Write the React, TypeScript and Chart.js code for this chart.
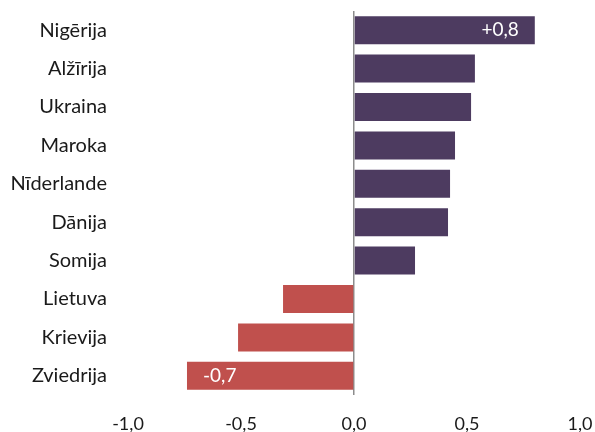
import React, { useEffect, useRef } from "react";
import { Chart, registerables } from "chart.js";

Chart.register(...registerables);

const categories = ["Nigērija", "Alžīrija", "Ukraina", "Maroka", "Nīderlande", "Dānija", "Somija", "Lietuva", "Krievija", "Zviedrija"];
const values = [0.80, 0.535, 0.518, 0.447, 0.425, 0.416, 0.27, -0.314, -0.513, -0.739];
const valueLabels = ["+0,8", "", "", "", "", "", "", "", "", "-0,7"];
const xTicks = [-1, -0.5, 0, 0.5, 1];

const PURPLE = "#4d3b60";
const RED = "#c0504d";
const FONT = "Lato, 'Open Sans', sans-serif";

const labelPlugin = {
  id: "valueLabels",
  afterDatasetsDraw(chart: any) {
    const meta = chart.getDatasetMeta(0);
    const ctx = chart.ctx;
    ctx.save();
    ctx.font = `19px ${FONT}`;
    ctx.fillStyle = "#ffffff";
    ctx.textBaseline = "middle";
    meta.data.forEach((bar: any, i: number) => {
      const t = valueLabels[i];
      if (!t) return;
      const v = values[i];
      if (v >= 0) {
        ctx.textAlign = "right";
        ctx.fillText(t, bar.x - 16, bar.y);
      } else {
        ctx.textAlign = "left";
        ctx.fillText(t, bar.x + 16, bar.y);
      }
    });
    ctx.restore();
  },
};

export default function App() {
  const ref = useRef<HTMLCanvasElement>(null);
  useEffect(() => {
    if (!ref.current) return;
    const chart = new Chart(ref.current, {
      type: "bar",
      data: {
        labels: categories,
        datasets: [
          {
            data: values,
            backgroundColor: values.map((v) => (v >= 0 ? PURPLE : RED)),
            barPercentage: 0.73,
            categoryPercentage: 1,
          },
        ],
      },
      options: {
        indexAxis: "y",
        animation: false,
        responsive: false,
        maintainAspectRatio: false,
        layout: { padding: { top: 11, right: 15, bottom: 0, left: 0 } },
        plugins: { legend: { display: false }, tooltip: { enabled: false } },
        scales: {
          x: {
            min: -1,
            max: 1,
            afterBuildTicks: (scale: any) => {
              scale.ticks = xTicks.map((v) => ({ value: v }));
            },
            afterFit: (scale: any) => {
              scale.height = 37;
              scale.paddingLeft = 0;
              scale.paddingRight = 0;
            },
            border: { display: false },
            grid: {
              drawTicks: false,
              lineWidth: (c: any) => (c.tick && c.tick.value === 0 ? 1.5 : 0),
              color: (c: any) => (c.tick && c.tick.value === 0 ? "#8c8c8c" : "rgba(0,0,0,0)"),
            },
            ticks: {
              padding: 18,
              color: "#1a1a1a",
              font: { family: FONT, size: 18 },
              callback: (v: any) => Number(v).toFixed(1).replace(".", ","),
            },
          },
          y: {
            afterFit: (scale: any) => {
              scale.width = 128;
              scale.paddingTop = 0;
              scale.paddingBottom = 0;
            },
            border: { display: false },
            grid: { display: false, drawTicks: false },
            ticks: {
              padding: 21,
              color: "#1a1a1a",
              font: { family: FONT, size: 20 },
            },
          },
        },
      },
      plugins: [labelPlugin],
    });
    return () => chart.destroy();
  }, []);
  return (
    <div style={{ position: "fixed", left: 0, top: 0, width: 595, height: 432, background: "#fff" }}>
      <canvas ref={ref} width={595} height={432} style={{ width: 595, height: 432 }} />
    </div>
  );
}
